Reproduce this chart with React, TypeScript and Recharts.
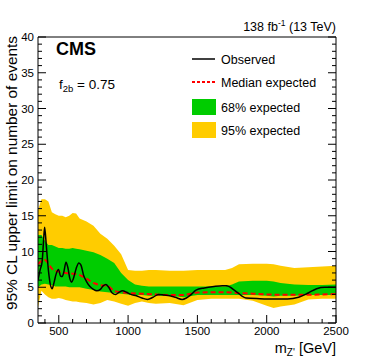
import React from 'react';
import { ComposedChart, Area, Line, XAxis, YAxis } from 'recharts';

// ---- data ----
const bandMass = [350, 375, 400, 425, 450, 475, 500, 525, 550, 575, 600, 625, 650, 700, 750, 800, 850, 900, 950, 1000, 1050, 1100, 1150, 1200, 1300, 1400, 1500, 1600, 1700, 1750, 1800, 1900, 2000, 2050, 2100, 2200, 2300, 2400, 2500];
const band95Hi = [15.8, 17.3, 17.3, 17.0, 15.5, 15.2, 15.0, 15.0, 14.8, 15.0, 15.4, 15.3, 14.6, 14.2, 13.6, 12.5, 11.8, 10.8, 9.6, 7.4, 7.3, 7.3, 7.4, 7.4, 7.3, 7.3, 7.4, 7.4, 7.4, 7.7, 8.2, 8.3, 8.3, 8.2, 8.0, 7.7, 7.8, 7.9, 8.0];
const band95Lo = [2.2, 4.5, 4.0, 3.6, 3.4, 3.4, 3.5, 3.4, 3.2, 3.1, 3.0, 3.0, 2.9, 2.8, 2.6, 2.8, 3.2, 3.0, 2.7, 2.4, 2.8, 3.0, 2.8, 2.7, 2.8, 2.5, 3.2, 3.4, 3.4, 3.4, 3.4, 3.1, 2.4, 2.1, 2.3, 2.6, 3.3, 3.4, 3.4];
const band68Hi = [12.3, 12.3, 11.5, 10.9, 10.9, 10.7, 10.5, 10.5, 10.4, 10.4, 10.5, 10.4, 10.3, 10.1, 9.9, 9.5, 9.0, 8.4, 7.0, 6.0, 5.4, 5.2, 5.1, 5.1, 5.1, 5.1, 5.1, 5.1, 5.1, 5.4, 5.8, 5.9, 5.9, 5.8, 5.6, 5.4, 5.3, 5.3, 5.4];
const band68Lo = [5.0, 5.4, 5.5, 5.4, 5.3, 5.1, 5.1, 5.1, 5.1, 5.0, 5.0, 5.0, 5.0, 4.8, 4.6, 4.4, 4.3, 4.2, 4.1, 4.0, 3.9, 3.9, 3.8, 3.8, 3.8, 3.6, 3.9, 3.9, 3.9, 3.9, 3.9, 3.9, 3.8, 3.7, 3.8, 3.8, 3.9, 3.9, 3.9];

const expMass = [350, 375, 400, 425, 450, 475, 500, 550, 600, 650, 700, 750, 800, 850, 900, 950, 1000, 1100, 1200, 1300, 1400, 1450, 1500, 1600, 1700, 1800, 1900, 2000, 2100, 2200, 2300, 2400, 2500];
const expMedian = [8.2, 8.7, 8.8, 8.3, 7.6, 7.3, 7.2, 7.0, 6.9, 6.7, 6.2, 5.6, 5.3, 5.2, 4.5, 4.3, 4.2, 4.1, 4.0, 3.9, 3.9, 4.1, 4.25, 4.3, 4.3, 4.2, 4.1, 4.0, 3.95, 3.95, 3.95, 4.0, 4.05];

const obsMass = [350, 365, 380, 390, 398, 410, 425, 440, 452, 465, 480, 498, 512, 525, 537, 552, 565, 580, 592, 605, 625, 645, 660, 680, 700, 725, 750, 775, 800, 820, 840, 860, 885, 910, 935, 960, 990, 1020, 1060, 1100, 1140, 1180, 1220, 1260, 1300, 1340, 1390, 1420, 1450, 1490, 1550, 1620, 1680, 1710, 1780, 1850, 1950, 2050, 2150, 2230, 2300, 2360, 2420, 2500];
const obsLimit = [6.0, 7.4, 8.6, 11.5, 13.4, 10.8, 7.4, 5.3, 4.8, 5.6, 6.8, 7.5, 6.6, 6.5, 7.2, 8.5, 7.8, 6.2, 5.7, 6.2, 7.6, 8.4, 8.1, 6.6, 5.8, 5.1, 4.7, 4.5, 4.7, 5.2, 5.4, 5.0, 4.2, 4.0, 4.3, 4.5, 4.3, 4.0, 3.8, 3.5, 3.3, 3.6, 4.0, 3.9, 3.8, 3.6, 3.3, 3.5, 3.9, 4.6, 4.9, 5.1, 5.2, 5.2, 4.4, 3.5, 3.4, 3.35, 3.35, 3.6, 4.2, 4.8, 5.0, 5.0];

const xMajorTicks = [500, 1000, 1500, 2000, 2500];
const yMajorTicks = [0, 5, 10, 15, 20, 25, 30, 35, 40];
const xTicks = Array.from({ length: 22 }, (_, i) => 400 + i * 100);
const yTicks = Array.from({ length: 41 }, (_, i) => i);

const bandData = bandMass.map((m, i) => ({ m, y95: [band95Lo[i], band95Hi[i]], y68: [band68Lo[i], band68Hi[i]] }));
const expData = expMass.map((m, i) => ({ m, med: expMedian[i] }));
const obsData = obsMass.map((m, i) => ({ m, obs: obsLimit[i] }));

const FONT = '"Liberation Sans", Arial, Helvetica, sans-serif';
const W = 374;
const H = 359;

const XTick = (props: any) => {
  const { x, y, payload } = props;
  const v = payload.value;
  const major = xMajorTicks.includes(v);
  return (
    <g>
      <line x1={x} y1={y} x2={x} y2={y - (major ? 8 : 4)} stroke="#000" strokeWidth={1} />
      {major && (
        <text x={x} y={y + 11.5} textAnchor="middle" fontSize={11.5} fontFamily={FONT} fill="#000">
          {v}
        </text>
      )}
    </g>
  );
};

const YTick = (props: any) => {
  const { x, y, payload } = props;
  const v = payload.value;
  const major = yMajorTicks.includes(v);
  return (
    <g>
      <line x1={x} y1={y} x2={x + (major ? 8 : 4)} y2={y} stroke="#000" strokeWidth={1} />
      {major && (
        <text x={x - 4} y={y + 4} textAnchor="end" fontSize={11.5} fontFamily={FONT} fill="#000">
          {v}
        </text>
      )}
    </g>
  );
};

const YTickRight = (props: any) => {
  const { x, y, payload } = props;
  const major = yMajorTicks.includes(payload.value);
  return <line x1={x} y1={y} x2={x - (major ? 8 : 4)} y2={y} stroke="#000" strokeWidth={1} />;
};

export default function App() {
  return (
    <div style={{ position: 'absolute', left: 0, top: 0, width: W, height: H, background: '#fff' }}>
      <ComposedChart
        width={W}
        height={H}
        margin={{ top: 27, right: 28, bottom: 16, left: 18 }}
      >
        <XAxis
          xAxisId="b"
          type="number"
          dataKey="m"
          domain={[350, 2500]}
          allowDataOverflow
          ticks={xTicks}
          interval={0}
          height={20}
          tickSize={0}
          tickMargin={0}
          tickLine={false}
          tick={<XTick />}
          axisLine={{ stroke: '#000', strokeWidth: 1 }}
        />
        <XAxis
          xAxisId="t"
          orientation="top"
          type="number"
          dataKey="m"
          domain={[350, 2500]}
          allowDataOverflow
          height={10}
          tick={false}
          tickLine={false}
          axisLine={{ stroke: '#000', strokeWidth: 1 }}
        />
        <YAxis
          yAxisId="l"
          type="number"
          domain={[0, 40]}
          allowDataOverflow
          ticks={yTicks}
          interval={0}
          width={20}
          tickSize={0}
          tickMargin={0}
          tickLine={false}
          tick={<YTick />}
          axisLine={{ stroke: '#000', strokeWidth: 1 }}
        />
        <YAxis
          yAxisId="r"
          orientation="right"
          type="number"
          domain={[0, 40]}
          allowDataOverflow
          ticks={yTicks}
          interval={0}
          width={10}
          tickSize={0}
          tickMargin={0}
          tickLine={false}
          tick={<YTickRight />}
          axisLine={{ stroke: '#000', strokeWidth: 1 }}
        />
        <Area
          xAxisId="b"
          yAxisId="l"
          data={bandData}
          dataKey="y95"
          type="linear"
          stroke="none"
          fill="#FFCC00"
          fillOpacity={1}
          isAnimationActive={false}
          activeDot={false}
        />
        <Area
          xAxisId="b"
          yAxisId="l"
          data={bandData}
          dataKey="y68"
          type="linear"
          stroke="none"
          fill="#00CC00"
          fillOpacity={1}
          isAnimationActive={false}
          activeDot={false}
        />
        <Line
          xAxisId="b"
          yAxisId="l"
          data={expData}
          dataKey="med"
          type="monotone"
          stroke="#FF0000"
          strokeWidth={2}
          strokeDasharray="5 3"
          dot={false}
          isAnimationActive={false}
        />
        <Line
          xAxisId="b"
          yAxisId="l"
          data={obsData}
          dataKey="obs"
          type="monotone"
          stroke="#000"
          strokeWidth={1.5}
          dot={false}
          isAnimationActive={false}
        />
      </ComposedChart>
      <svg
        width={W}
        height={H}
        style={{ position: 'absolute', left: 0, top: 0, pointerEvents: 'none' }}
        fontFamily={FONT}
      >
        <text x={336} y={31} textAnchor="end" fontSize={12.5} fill="#000">
          138 fb<tspan dy={-5} fontSize={8.5}>-1</tspan>
          <tspan dy={5} fontSize={12.5}> (13 TeV)</tspan>
        </text>
        <text x={56} y={54.5} fontSize={18} fontWeight="bold" fill="#000">CMS</text>
        <text x={59} y={89} fontSize={13.5} fill="#000">
          f<tspan dy={3} fontSize={9.5}>2b</tspan>
          <tspan dy={-3} fontSize={13.5}> = 0.75</tspan>
        </text>
        <line x1={192} y1={59} x2={215} y2={59} stroke="#000" strokeWidth={1.5} />
        <text x={221} y={64} fontSize={12.5} fill="#000">Observed</text>
        <line x1={192} y1={82} x2={215} y2={82} stroke="#FF0000" strokeWidth={2} strokeDasharray="3 2" />
        <text x={221} y={87} fontSize={12.5} fill="#000">Median expected</text>
        <rect x={192} y={99} width={24} height={16} fill="#00CC00" />
        <text x={221} y={112} fontSize={12.5} fill="#000">68% expected</text>
        <rect x={192} y={122} width={24} height={16} fill="#FFCC00" />
        <text x={221} y={135} fontSize={12.5} fill="#000">95% expected</text>
        <text transform="translate(16.5,36) rotate(-90)" textAnchor="end" fontSize={15.4} fill="#000">
          95% CL upper limit on number of events
        </text>
        <text x={336} y={353} textAnchor="end" fontSize={14.5} fill="#000">
          m<tspan dy={3} fontSize={10}>Z'</tspan>
          <tspan dy={-3} fontSize={14.5}> [GeV]</tspan>
        </text>
      </svg>
    </div>
  );
}
